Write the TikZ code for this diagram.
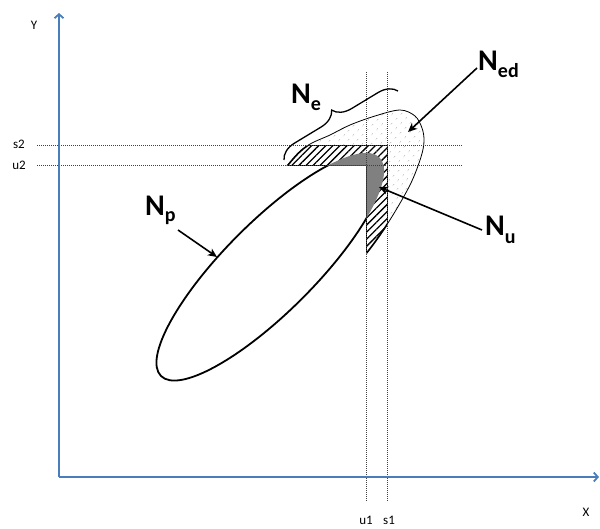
\documentclass[tikz,border=0pt]{standalone}
\usepackage{fontspec}
\setmainfont{Carlito}
\usetikzlibrary{arrows.meta,patterns.meta,decorations.pathreplacing}
\definecolor{axisblue}{RGB}{74,126,187}
\definecolor{midgray}{RGB}{128,128,128}
\begin{document}
\begin{tikzpicture}[x=1pt,y=-1pt,
  guide/.style={line width=0.8pt, dash pattern=on 1pt off 1pt, black!75},
  axisline/.style={line width=1.8pt, axisblue, -{Straight Barb[length=4pt,width=9pt]}},
  callout/.style={line width=1.6pt, -{Stealth[length=9pt,width=8pt,inset=2.5pt]}},
  biglabel/.style={anchor=base west, inner sep=0pt, font=\fontsize{30}{30}\selectfont\bfseries},
  smalllabel/.style={inner sep=0pt, font=\fontsize{13}{13}\selectfont},
  bracestyle/.style={line width=1.3pt, decorate, decoration={brace, amplitude=18pt}}
]
\useasboundingbox (0,0) rectangle (600,528);
\def\Ned{plot[smooth cycle, tension=0.55] coordinates {(288,165) (307,146) (330,135) (350,125) (375,116) (400,110) (415,116) (422,128) (424,141) (421,157) (410,185) (388,223) (365,255) (339,283) (283,283) (247,219)}}
\def\Np{(270.25,266.75) ellipse [x radius=154.5, y radius=45]}
\def\Lband{(250,145.5) -- (387.5,145.5) -- (387.5,320) -- (366.5,320) -- (366.5,165.5) -- (250,165.5) -- cycle}
% dotted region N_ed
\fill[pattern={Dots[distance=6.5pt,angle=45,radius=0.55pt]}, pattern color=black!70] \Ned;
\draw[line width=0.8pt] \Ned;
% hidden lower-left quadrant
\fill[white] (61,165.5) rectangle (366.5,476);
% N_p ellipse
\draw[line width=1.8pt, fill=white, rotate around={45:(270.25,266.75)}] \Np;
% hatched band N_e
\begin{scope}
  \clip \Ned;
  \fill[white] \Lband;
  \fill[pattern={Lines[angle=45,distance=5pt,line width=1.3pt]}, pattern color=black] \Lband;
  \draw[line width=0.8pt] \Lband;
\end{scope}
\begin{scope}
  \clip \Lband;
  \draw[line width=1.6pt] \Ned;
\end{scope}
% grey region N_u
\begin{scope}
  \clip[rotate around={45:(270.25,266.75)}] \Np;
  \fill[midgray] (150,100) -- (450,100) -- (450,320) -- (366.5,320) -- (366.5,165.5) -- (150,165.5) -- cycle;
\end{scope}
% guide lines
\draw[guide] (37,145.5) -- (463,145.5);
\draw[guide] (37,165.5) -- (463,165.5);
\draw[guide] (366.5,72) -- (366.5,502);
\draw[guide] (387.5,72) -- (387.5,502);
% axes
\coordinate (O) at (59,477);
\coordinate (Ytip) at (59,13);
\coordinate (Xtip) at (599,477);
\draw[axisline] (O) -- (Ytip);
\draw[axisline] (O) -- (Xtip);
% small labels
\node[smalllabel] (ylab) at (34,25) {Y};
\node[smalllabel] (xlab) at (586,512) {X};
\node[smalllabel] (s2lab) at (19,144.5) {s2};
\node[smalllabel] (u2lab) at (19,165.5) {u2};
\node[smalllabel] (u1lab) at (366,520) {u1};
\node[smalllabel] (s1lab) at (389,520) {s1};
% big labels
\node[biglabel] (Nplab) at (145,215) {N\raisebox{-6pt}{\fontsize{20}{20}\selectfont p}};
\node[biglabel] (Nelab) at (291,103) {N\raisebox{-7pt}{\fontsize{20}{20}\selectfont e}};
\node[biglabel] (Nedlab) at (478,70) {N\raisebox{-7pt}{\fontsize{20}{20}\selectfont ed}};
\node[biglabel] (Nulab) at (485,235) {N\raisebox{-8pt}{\fontsize{20}{20}\selectfont u}};
% brace
\coordinate (braceA) at (284,160);
\coordinate (braceB) at (398,91);
\draw[bracestyle] (braceA) -- (braceB);
% callout arrows
\coordinate (NedS) at (477,68);
\coordinate (NedT) at (408,132);
\coordinate (NuS) at (482,230);
\coordinate (NuT) at (379,187);
\coordinate (NpS) at (178,230);
\coordinate (NpT) at (217,257);
\draw[callout] (NedS) -- (NedT);
\draw[callout] (NuS) -- (NuT);
\draw[callout] (NpS) -- (NpT);
\end{tikzpicture}
\end{document}
